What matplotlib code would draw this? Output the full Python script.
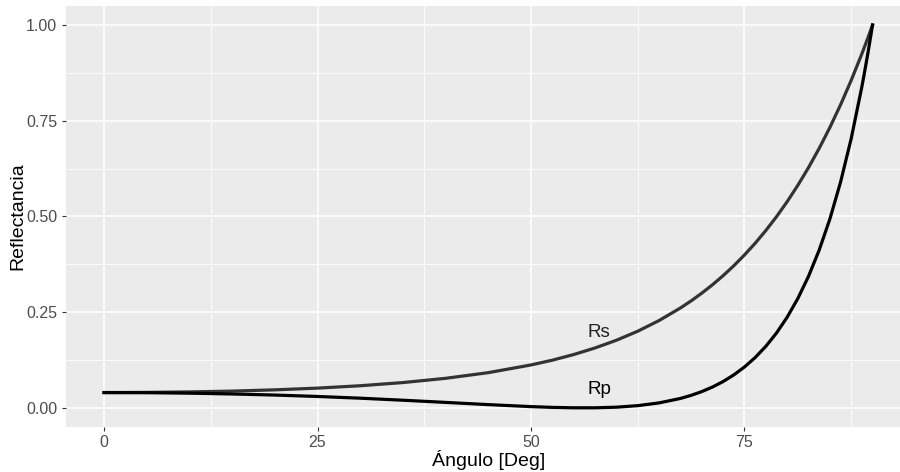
import matplotlib
matplotlib.use("Agg")
import matplotlib.pyplot as plt
from matplotlib.ticker import MultipleLocator

# angulos de incidencia (grados) y reflectancias
angulo = [0, 5, 10, 15, 20, 25, 30, 35, 40, 45, 50, 52.5, 55, 57.5, 60,
          62.5, 65, 67.5, 68.75, 70, 71.25, 72.5, 73.75, 75, 76.25, 77.5, 78.75,
          80, 81.25, 82.5, 83.75, 85, 86.25, 87.5, 88.75, 89, 89.5, 90]
rs = [0.0400, 0.0404, 0.0417, 0.0438, 0.0471, 0.0516, 0.0578, 0.0661, 0.0772,
      0.0920, 0.1121, 0.1246, 0.1393, 0.1565, 0.1766, 0.2002, 0.2281, 0.2609,
      0.2794, 0.2996, 0.3215, 0.3453, 0.3712, 0.3994, 0.4299, 0.4632, 0.4993,
      0.5386, 0.5813, 0.6276, 0.6778, 0.7323, 0.7915, 0.8555, 0.9249, 0.9395,
      0.9692, 1.0]
rp = [0.0400, 0.0396, 0.0384, 0.0363, 0.0335, 0.0298, 0.0253, 0.0200, 0.0143,
      0.0085, 0.0033, 0.0013, 0.0002, 0.0002, 0.0018, 0.0058, 0.0130, 0.0246,
      0.0327, 0.0425, 0.0544, 0.0688, 0.0861, 0.1068, 0.1314, 0.1607, 0.1955,
      0.2368, 0.2857, 0.3436, 0.4121, 0.4932, 0.5894, 0.7034, 0.8389, 0.8689,
      0.9322, 1.0]

x_ticks = [0, 25, 50, 75]
y_ticks = [0.00, 0.25, 0.50, 0.75, 1.00]
y_labels = ["0.00", "0.25", "0.50", "0.75", "1.00"]

plt.rcParams['font.family'] = ['Liberation Sans', 'DejaVu Sans']

fig = plt.figure(figsize=(9, 4.72), dpi=100)
ax = fig.add_axes([0.0729, 0.0953, 0.9393, 0.8923])
ax.set_facecolor('#EBEBEB')

ax.plot(angulo, rs, color='#333333', lw=2.3, solid_joinstyle='round', zorder=3)
ax.plot(angulo, rp, color='black', lw=2.3, solid_joinstyle='round', zorder=3)

ax.text(58, 0.198, "Rs", fontsize=13.5, color='#222222', ha='center', va='center')
ax.text(58, 0.047, "Rp", fontsize=13.5, color='black', ha='center', va='center')

ax.set_xlim(-4.5, 94.5)
ax.set_ylim(-0.05, 1.05)
ax.set_xticks(x_ticks)
ax.set_yticks(y_ticks)
ax.set_yticklabels(y_labels)
ax.xaxis.set_minor_locator(MultipleLocator(12.5))
ax.yaxis.set_minor_locator(MultipleLocator(0.125))

ax.grid(which='major', color='white', lw=1.1)
ax.grid(which='minor', color='white', lw=0.55)
ax.set_axisbelow(True)
for s in ax.spines.values():
    s.set_visible(False)

ax.tick_params(which='major', length=3, width=0.8, color='#333333',
               labelsize=11.5, labelcolor='#4D4D4D', pad=3)
ax.tick_params(which='minor', length=0)

ax.set_xlabel("Ángulo [Deg]", fontsize=14, color='black', labelpad=0)
ax.set_ylabel("Reflectancia", fontsize=14, color='black', labelpad=0)

fig.savefig("out.png", dpi=100)
